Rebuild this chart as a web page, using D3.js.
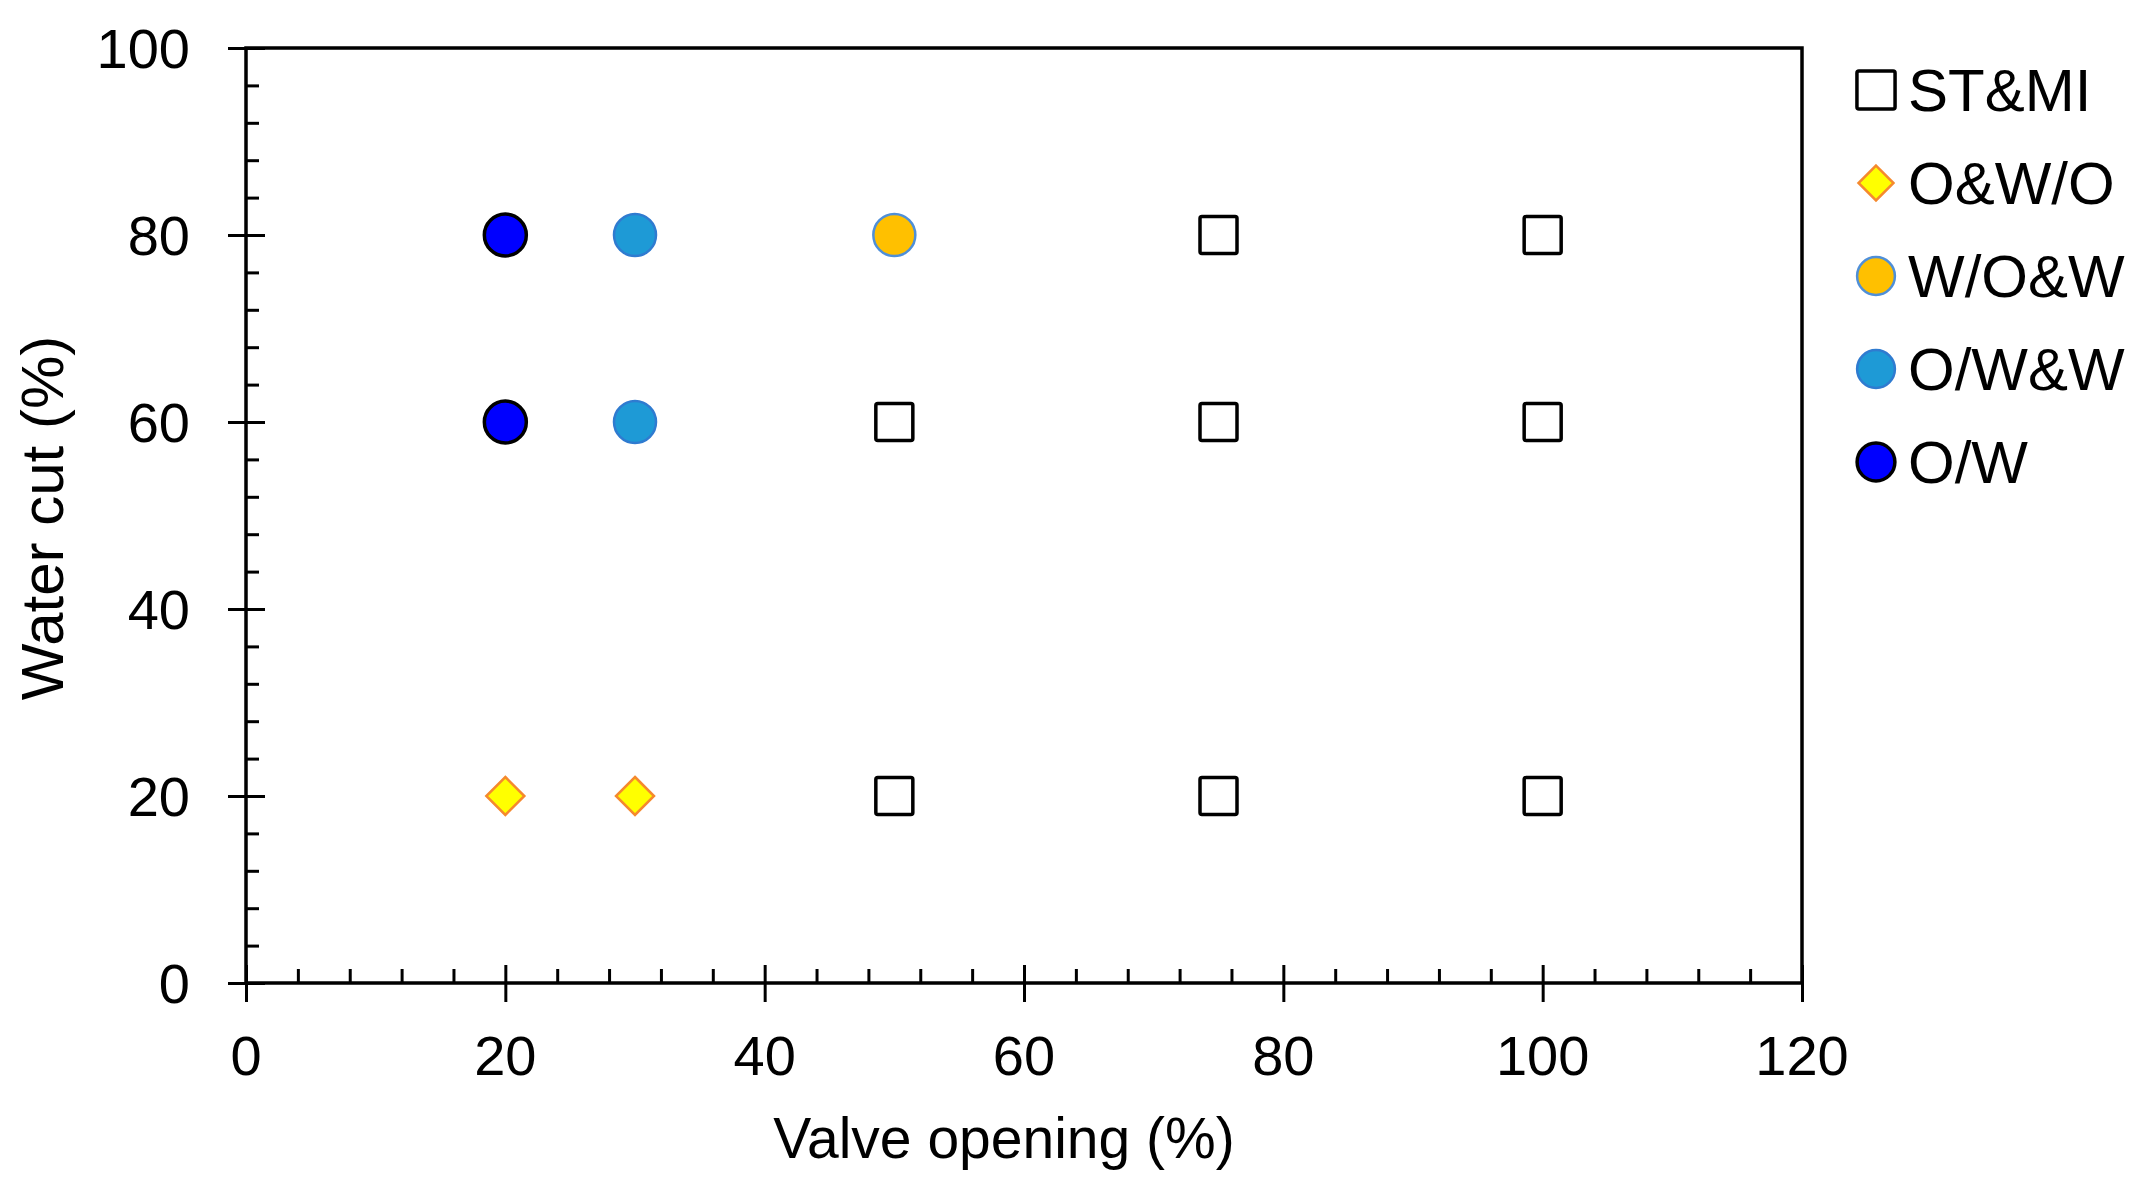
<!DOCTYPE html>
<html><head><meta charset="utf-8">
<script src="https://cdn.jsdelivr.net/npm/d3@7"></script>
<style>body{margin:0;background:#fff}svg{display:block}text{font-family:"Liberation Sans",Arial,sans-serif;fill:#000}</style>
</head><body>
<svg id="c" width="2151" height="1191"></svg>
<script>
// Data
const seriesNames = ["ST&MI", "O&W/O", "W/O&W", "O/W&W", "O/W"];
const stmi = [[75,80],[100,80],[50,60],[75,60],[100,60],[50,20],[75,20],[100,20]];
const owo = [[20,20],[30,20]];
const wow = [[50,80]];
const oww = [[30,80],[30,60]];
const ow = [[20,80],[20,60]];
const xTicks = [0,20,40,60,80,100,120];
const yTicks = [0,20,40,60,80,100];

const svg = d3.select("#c");
const L=246, R=1802, T=48, B=983;
const x = d3.scaleLinear().domain([0,120]).range([L,R]);
const y = d3.scaleLinear().domain([0,100]).range([B,T]);

const styles = {
  "ST&MI": {shape:"square", fill:"#fff", stroke:"#000", sw:3.5, size:37},
  "O&W/O": {shape:"diamond", fill:"#ffff00", stroke:"#f5892e", sw:2.5, size:38},
  "W/O&W": {shape:"circle", fill:"#ffc000", stroke:"#4f8fd8", sw:2.5, size:42},
  "O/W&W": {shape:"circle", fill:"#1e9ad6", stroke:"#2f7bd0", sw:2.5, size:42},
  "O/W": {shape:"circle", fill:"#0000ff", stroke:"#000", sw:3.5, size:42}
};
const data = {"ST&MI":stmi,"O&W/O":owo,"W/O&W":wow,"O/W&W":oww,"O/W":ow};

// frame
svg.append("rect").attr("x",L).attr("y",T).attr("width",R-L).attr("height",B-T)
  .attr("fill","none").attr("stroke","#000").attr("stroke-width",3.5);

// minor ticks
const xMinor = d3.range(0,121,4).filter(v=>v%20!==0);
const yMinor = d3.range(0,101,4).filter(v=>v%20!==0);
const gx = svg.append("g").attr("transform",`translate(0,${B})`);
gx.call(d3.axisBottom(x).tickValues(xMinor).tickSize(-14).tickFormat(""))
  .call(g=>g.select(".domain").remove());
gx.call(g=>g.selectAll("line").attr("stroke-width",3));
const gxM = svg.append("g").attr("transform",`translate(0,${B+19})`);
gxM.call(d3.axisBottom(x).tickValues(xTicks).tickSize(-37).tickFormat(""))
  .call(g=>g.select(".domain").remove());
gxM.selectAll("line").attr("stroke-width",3);
xTicks.forEach(v=>{
  svg.append("text").attr("x",x(v)).attr("y",1075).attr("text-anchor","middle")
   .attr("font-size",56).text(v);
});

const gy = svg.append("g").attr("transform",`translate(${L},0)`);
gy.call(d3.axisLeft(y).tickValues(yMinor).tickSize(-13).tickFormat(""))
  .call(g=>g.select(".domain").remove());
gy.selectAll("line").attr("stroke-width",3);
const gyM = svg.append("g").attr("transform",`translate(${L-18},0)`);
gyM.call(d3.axisLeft(y).tickValues(yTicks).tickSize(-37).tickFormat(""))
  .call(g=>g.select(".domain").remove());
gyM.selectAll("line").attr("stroke-width",3);
yTicks.forEach(v=>{
  svg.append("text").attr("x",190).attr("y",y(v)+20).attr("text-anchor","end")
   .attr("font-size",56).text(v);
});

function drawMarker(g, st, cx, cy, scale) {
  const s = st.size*scale;
  if (st.shape==="square") {
    g.append("rect").attr("x",cx-s/2).attr("y",cy-s/2).attr("width",s).attr("height",s)
     .attr("rx",2).attr("fill",st.fill).attr("stroke",st.stroke).attr("stroke-width",st.sw);
  } else if (st.shape==="diamond") {
    const h=s/2;
    g.append("path").attr("d",`M${cx},${cy-h}L${cx+h},${cy}L${cx},${cy+h}L${cx-h},${cy}Z`)
     .attr("fill",st.fill).attr("stroke",st.stroke).attr("stroke-width",st.sw);
  } else {
    g.append("circle").attr("cx",cx).attr("cy",cy).attr("r",s/2)
     .attr("fill",st.fill).attr("stroke",st.stroke).attr("stroke-width",st.sw);
  }
}

const pts = svg.append("g");
seriesNames.forEach(n=>{
  data[n].forEach(d=>drawMarker(pts, styles[n], x(d[0]), y(d[1]), 1));
});

// legend
const lg = svg.append("g");
seriesNames.forEach((n,i)=>{
  const cy = 90 + i*93;
  drawMarker(lg, styles[n], 1876, cy, n==="ST&MI"?1.03:(n==="O&W/O"?0.92:0.9));
  lg.append("text").attr("x",1908).attr("y",cy+21).attr("font-size",60).text(n);
});

// axis titles
svg.append("text").attr("x",1004).attr("y",1158).attr("text-anchor","middle")
  .attr("font-size",57).text("Valve opening (%)");
svg.append("text").attr("transform","translate(63,518) rotate(-90)").attr("text-anchor","middle")
  .attr("font-size",60).text("Water cut (%)");
</script>
</body></html>
